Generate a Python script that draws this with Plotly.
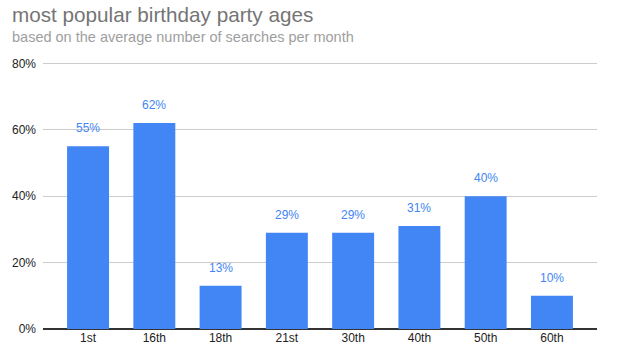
import plotly.graph_objects as go

categories = ["1st", "16th", "18th", "21st", "30th", "40th", "50th", "60th"]
values = [55, 62, 13, 29, 29, 31, 40, 10]
value_labels = ["55%", "62%", "13%", "29%", "29%", "31%", "40%", "10%"]
y_ticks = [0, 20, 40, 60, 80]
y_tick_labels = ["0%", "20%", "40%", "60%", "80%"]

BLUE = "#4285F4"
FONT = "Liberation Sans, Arial, sans-serif"

fig = go.Figure()
fig.add_trace(go.Bar(x=categories, y=values, marker=dict(color=BLUE, line=dict(width=0)),
                     width=0.633, hoverinfo="skip"))

annotations = []
for c, v, t in zip(categories, values, value_labels):
    annotations.append(dict(x=c, y=v, xref="x", yref="y", text=t, showarrow=False,
                            yanchor="middle", yshift=18,
                            font=dict(family=FONT, size=12, color=BLUE)))
annotations.append(dict(x=0, y=1, xref="paper", yref="paper", xanchor="left", yanchor="middle",
                        xshift=-33, yshift=46, text="most popular birthday party ages",
                        showarrow=False, font=dict(family=FONT, size=20.7, color="#757575")))
annotations.append(dict(x=0, y=1, xref="paper", yref="paper", xanchor="left", yanchor="middle",
                        xshift=-33, yshift=23, text="based on the average number of searches per month",
                        showarrow=False, font=dict(family=FONT, size=14.5, color="#9E9E9E")))

fig.update_layout(
    width=625, height=355,
    margin=dict(l=43, r=28, t=60, b=26, autoexpand=False),
    paper_bgcolor="white", plot_bgcolor="white",
    showlegend=False,
    annotations=annotations,
    font=dict(family=FONT, size=12, color="#222222"),
    xaxis=dict(range=[-0.68, 7.68], showgrid=False, showline=False, ticks="",
               automargin=False,
               tickfont=dict(family=FONT, size=12, color="#222222"), fixedrange=True),
    yaxis=dict(range=[0, 81], tickvals=y_ticks, ticktext=y_tick_labels,
               showgrid=True, gridcolor="#CCCCCC", gridwidth=1,
               zeroline=True, zerolinecolor="#333333", zerolinewidth=1.3,
               showline=False, ticks="", ticklabelstandoff=6, automargin=False,
               tickfont=dict(family=FONT, size=12, color="#222222"), fixedrange=True),
)

fig.write_html("out.html", config={"displayModeBar": False, "staticPlot": True},
               post_script="document.body.style.margin='0px';")
